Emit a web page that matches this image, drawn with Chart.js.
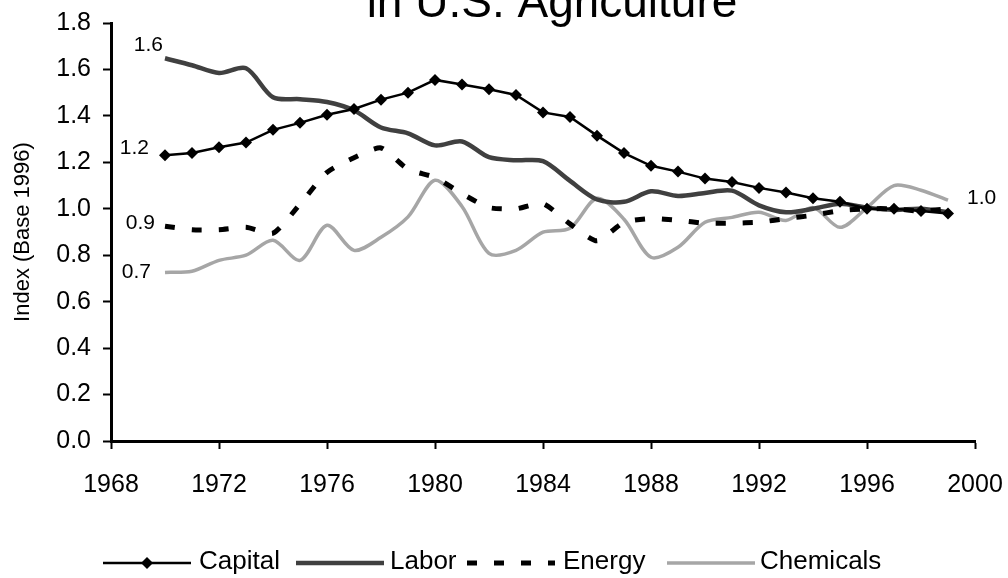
<!DOCTYPE html>
<html>
<head>
<meta charset="utf-8">
<script src="https://cdn.jsdelivr.net/npm/chart.js@4.4.1/dist/chart.umd.min.js"></script>
<style>
  html, body { margin: 0; padding: 0; background: #ffffff; }
  #wrap { position: relative; width: 1008px; height: 578px; overflow: hidden; }
  canvas { display: block; }
</style>
</head>
<body>
<div id="wrap"><canvas id="c" width="1008" height="578"></canvas></div>
<script>
// ---- Data ----
const years = [1970,1971,1972,1973,1974,1975,1976,1977,1978,1979,
               1980,1981,1982,1983,1984,1985,1986,1987,1988,1989,
               1990,1991,1992,1993,1994,1995,1996,1997,1998,1999];

const capital = [1.23,1.24,1.265,1.285,1.34,1.37,1.405,1.43,1.47,1.50,
                 1.555,1.535,1.515,1.49,1.415,1.395,1.315,1.24,1.185,1.16,
                 1.13,1.115,1.09,1.07,1.045,1.03,1.00,1.00,0.99,0.98];

const labor   = [1.648,1.618,1.585,1.605,1.48,1.472,1.46,1.424,1.35,1.325,
                 1.273,1.29,1.222,1.209,1.205,1.12,1.04,1.03,1.075,1.055,
                 1.068,1.078,1.015,0.985,1.0,1.022,1.005,0.995,1.0,0.985];

const energy  = [0.925,0.91,0.91,0.92,0.895,1.02,1.157,1.22,1.262,1.17,
                 1.135,1.065,1.005,1.0,1.022,0.935,0.862,0.942,0.958,0.95,
                 0.938,0.938,0.942,0.958,0.972,0.992,1.0,1.0,0.99,1.0];

const chemicals = [0.726,0.731,0.778,0.80,0.864,0.778,0.929,0.821,0.877,0.965,
                   1.123,1.01,0.808,0.821,0.899,0.916,1.045,0.955,0.791,0.834,
                   0.942,0.963,0.985,0.95,1.005,0.92,1.005,1.1,1.08,1.037];

const seriesNames = ['Capital','Labor','Energy','Chemicals'];
const yTicks = [0.0,0.2,0.4,0.6,0.8,1.0,1.2,1.4,1.6,1.8];
const xTicks = [1968,1972,1976,1980,1984,1988,1992,1996,2000];
const titleText = 'in U.S. Agriculture';
const yAxisTitle = 'Index (Base 1996)';
const endLabels = [
  {text:'1.6', year:1970, value:1.648},
  {text:'1.2', year:1970, value:1.23},
  {text:'0.9', year:1970, value:0.925},
  {text:'0.7', year:1970, value:0.726},
  {text:'1.0', year:1999, value:1.0}
];

const FONT = '"Liberation Sans", Arial, sans-serif';
const pts = arr => arr.map((v, i) => ({x: years[i], y: v}));

const ENERGY_DASH = [10, 17];

// ---- Custom plugin: clipped title, end labels, legend ----
const decorations = {
  id: 'decorations',
  afterDraw(chart) {
    const ctx = chart.ctx;
    const xs = chart.scales.x, ys = chart.scales.y;
    ctx.save();
    // title (top part cut off like the reference)
    ctx.fillStyle = '#000';
    ctx.font = '46px ' + FONT;
    ctx.textAlign = 'center';
    ctx.textBaseline = 'alphabetic';
    ctx.fillText(titleText, 552, 17);

    // value labels
    ctx.font = '21px ' + FONT;
    ctx.textBaseline = 'middle';
    endLabels.forEach(l => {
      const px = xs.getPixelForValue(l.year);
      const py = ys.getPixelForValue(l.value);
      if (l.year === 1970) {
        ctx.textAlign = 'right';
        let dx = -10, dy = 0;
        if (l.text === '1.6') { dx = -2; dy = -13; }
        if (l.text === '1.2') { dx = -16; dy = -7; }
        if (l.text === '0.9') { dx = -10; dy = -3; }
        if (l.text === '0.7') { dx = -14; dy = 0; }
        ctx.fillText(l.text, px + dx, py + dy);
      } else {
        ctx.textAlign = 'left';
        ctx.fillText(l.text, px + 19, py - 11);
      }
    });

    // legend
    const ly = 563;
    const symX = [103, 296, 467, 667];
    const txtX = [199, 390, 563, 760];
    const symW = 88;
    chart.data.datasets.forEach((ds, i) => {
      const x0 = symX[i];
      ctx.save();
      ctx.strokeStyle = ds.borderColor;
      ctx.lineWidth = ds.borderWidth;
      ctx.setLineDash(ds.borderDash || []);
      ctx.beginPath();
      ctx.moveTo(x0, ly);
      ctx.lineTo(x0 + symW, ly);
      ctx.stroke();
      ctx.setLineDash([]);
      if (ds.pointStyle === 'rectRot' && ds.pointRadius > 0) {
        const r = ds.pointRadius;
        const cx = x0 + symW / 2;
        ctx.fillStyle = ds.pointBackgroundColor;
        ctx.beginPath();
        ctx.moveTo(cx, ly - r);
        ctx.lineTo(cx + r, ly);
        ctx.lineTo(cx, ly + r);
        ctx.lineTo(cx - r, ly);
        ctx.closePath();
        ctx.fill();
      }
      ctx.restore();
      ctx.fillStyle = '#000';
      ctx.font = '26px ' + FONT;
      ctx.textAlign = 'left';
      ctx.textBaseline = 'middle';
      ctx.fillText(ds.label, txtX[i], ly - 1);
    });
    ctx.restore();
  }
};

new Chart(document.getElementById('c'), {
  type: 'line',
  data: {
    datasets: [
      {
        label: seriesNames[0], data: pts(capital),
        borderColor: '#000000', borderWidth: 2.5, tension: 0,
        pointStyle: 'rectRot', pointRadius: 6, pointBackgroundColor: '#000000',
        pointBorderColor: '#000000', pointBorderWidth: 0, order: 1
      },
      {
        label: seriesNames[1], data: pts(labor),
        borderColor: '#404040', borderWidth: 4.5, tension: 0.3,
        pointRadius: 0, order: 3
      },
      {
        label: seriesNames[2], data: pts(energy),
        borderColor: '#000000', borderWidth: 5, tension: 0.2,
        borderDash: ENERGY_DASH, borderCapStyle: 'butt',
        pointRadius: 0, order: 2
      },
      {
        label: seriesNames[3], data: pts(chemicals),
        borderColor: '#a6a6a6', borderWidth: 3.5, tension: 0.3,
        pointRadius: 0, order: 4
      }
    ]
  },
  options: {
    responsive: false,
    animation: false,
    devicePixelRatio: 1,
    layout: { padding: { left: 0, right: 33, top: 23, bottom: 0 } },
    plugins: {
      legend: { display: false },
      title: { display: false },
      tooltip: { enabled: false }
    },
    scales: {
      x: {
        type: 'linear', min: xTicks[0], max: xTicks[xTicks.length - 1],
        afterBuildTicks: s => { s.ticks = xTicks.map(v => ({value: v})); },
        ticks: {
          callback: v => String(v), color: '#000', autoSkip: false,
          maxRotation: 0, padding: 21, font: { family: FONT, size: 25 }
        },
        grid: { display: true, drawOnChartArea: false, drawTicks: true,
                tickLength: 8, tickColor: '#000', tickWidth: 2 },
        border: { display: true, color: '#000', width: 3 },
        afterFit: s => { s.height = 137; s.paddingLeft = 0; s.paddingRight = 0; }
      },
      y: {
        type: 'linear', min: yTicks[0], max: yTicks[yTicks.length - 1],
        afterBuildTicks: s => { s.ticks = yTicks.map(v => ({value: v})); },
        ticks: {
          callback: v => Number(v).toFixed(1), color: '#000', autoSkip: false,
          padding: 12, font: { family: FONT, size: 25 }
        },
        grid: { display: true, drawOnChartArea: false, drawTicks: true,
                tickLength: 8, tickColor: '#000', tickWidth: 2 },
        border: { display: true, color: '#000', width: 3 },
        title: {
          display: true, text: yAxisTitle, color: '#000',
          font: { family: FONT, size: 22 }, padding: { top: 10, bottom: 0 }
        },
        afterFit: s => { s.width = 111; s.paddingTop = 0; s.paddingBottom = 0; }
      }
    }
  },
  plugins: [decorations]
});
</script>
</body>
</html>
